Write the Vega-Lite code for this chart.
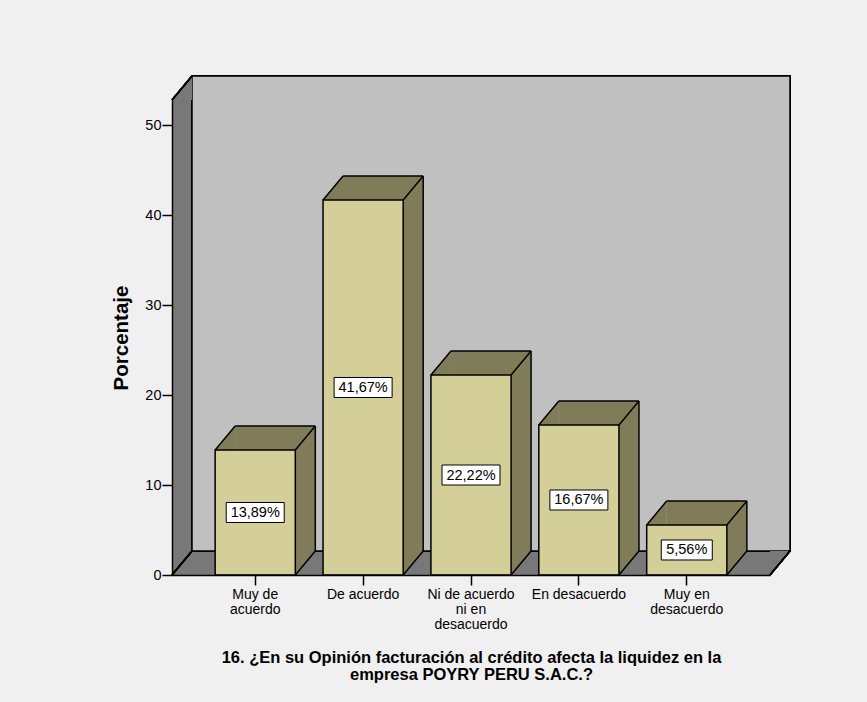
{
  "$schema": "https://vega.github.io/schema/vega-lite/v6.json",
  "width": 598,
  "height": 475,
  "autosize": {"type": "none"},
  "padding": {"left": 172, "top": 100, "right": 97, "bottom": 127},
  "background": "#f0f0f0",
  "config": {"view": {"stroke": null}, "font": "Liberation Sans"},
  "data": {"values": [
    {"cat": "Muy de|acuerdo", "v": 13.89, "lbl": "13,89%"},
    {"cat": "De acuerdo", "v": 41.67, "lbl": "41,67%"},
    {"cat": "Ni de acuerdo|ni en|desacuerdo", "v": 22.22, "lbl": "22,22%"},
    {"cat": "En desacuerdo", "v": 16.67, "lbl": "16,67%"},
    {"cat": "Muy en|desacuerdo", "v": 5.56, "lbl": "5,56%"}
  ]},
  "resolve": {"scale": {"y": "independent"}, "axis": {"x": "independent", "y": "independent"}},
  "layer": [
    {
      "mark": {"type": "rect", "fill": "#787878"},
      "encoding": {
        "x": {"value": 0},
        "x2": {"value": "width"},
        "y": {"datum": 0, "type": "quantitative", "scale": {"domain": [0, 52.78], "nice": false}, "axis": null},
        "y2": {"datum": 52.78}
      }
    },
    {
      "mark": {"type": "rect", "fill": "#c0c0c0", "stroke": "#000", "strokeWidth": 1.5, "xOffset": 20, "x2Offset": 20, "yOffset": -24, "y2Offset": -24},
      "encoding": {
        "x": {"value": 0},
        "x2": {"value": "width"},
        "y": {"datum": 0, "type": "quantitative", "scale": {"domain": [0, 52.78], "nice": false}, "axis": null},
        "y2": {"datum": 52.78}
      }
    },
    {
      "mark": {"type": "point", "shape": "M0,0L0.8333,-1L0.8333,0Z", "size": 2304, "filled": true, "color": "#787878", "opacity": 1, "strokeOpacity": 0},
      "encoding": {
        "x": {"value": 0},
        "y": {"datum": 52.78, "type": "quantitative", "scale": {"domain": [0, 52.78], "nice": false}, "axis": null}
      }
    },
    {
      "mark": {"type": "point", "shape": "M0,0L0,-1L0.8333,-1Z", "size": 2304, "filled": true, "color": "#787878", "opacity": 1, "strokeOpacity": 0},
      "encoding": {
        "x": {"value": "width"},
        "y": {"datum": 0, "type": "quantitative", "scale": {"domain": [0, 52.78], "nice": false}, "axis": null}
      }
    },
    {
      "mark": {"type": "rule", "color": "#000", "strokeWidth": 1.5, "x2Offset": 20, "y2Offset": -24},
      "encoding": {
        "x": {"value": 0},
        "x2": {"value": 0},
        "y": {"datum": 52.78, "type": "quantitative", "scale": {"domain": [0, 52.78], "nice": false}, "axis": null},
        "y2": {"datum": 52.78}
      }
    },
    {
      "mark": {"type": "rule", "color": "#000", "strokeWidth": 1.5, "x2Offset": 20, "y2Offset": -24},
      "encoding": {
        "x": {"value": 0},
        "x2": {"value": 0},
        "y": {"datum": 0, "type": "quantitative", "scale": {"domain": [0, 52.78], "nice": false}, "axis": null},
        "y2": {"datum": 0}
      }
    },
    {
      "mark": {"type": "rule", "color": "#000", "strokeWidth": 1.5, "x2Offset": 20, "y2Offset": -24},
      "encoding": {
        "x": {"value": "width"},
        "x2": {"value": "width"},
        "y": {"datum": 0, "type": "quantitative", "scale": {"domain": [0, 52.78], "nice": false}, "axis": null},
        "y2": {"datum": 0}
      }
    },
    {
      "mark": {"type": "bar", "fill": "#807c5a", "xOffset": 20, "x2Offset": 20, "yOffset": -24, "y2Offset": -24},
      "encoding": {
        "x": {"field": "cat", "type": "nominal", "sort": null, "scale": {"type": "band", "paddingInner": 0.257, "paddingOuter": 0.4}, "axis": null},
        "y": {"field": "v", "type": "quantitative", "scale": {"domain": [0, 52.78], "nice": false}, "axis": null}
      }
    },
    {
      "mark": {"type": "point", "shape": "M0,0L0.8333,-1L0.8333,0Z", "size": 2304, "filled": true, "color": "#807c5a", "opacity": 1, "strokeOpacity": 0},
      "encoding": {
        "x": {"field": "cat", "type": "nominal", "sort": null, "bandPosition": 0, "scale": {"type": "band", "paddingInner": 0.257, "paddingOuter": 0.4}, "axis": null},
        "y": {"field": "v", "type": "quantitative", "scale": {"domain": [0, 52.78], "nice": false}, "axis": null}
      }
    },
    {
      "mark": {"type": "point", "shape": "M0,0L0,-1L0.8333,-1Z", "size": 2304, "filled": true, "color": "#807c5a", "opacity": 1, "strokeOpacity": 0},
      "encoding": {
        "x": {"field": "cat", "type": "nominal", "sort": null, "bandPosition": 1, "scale": {"type": "band", "paddingInner": 0.257, "paddingOuter": 0.4}, "axis": null},
        "y": {"datum": 0, "type": "quantitative", "scale": {"domain": [0, 52.78], "nice": false}, "axis": null}
      }
    },
    {
      "mark": {"type": "rule", "color": "#000", "strokeWidth": 1.5, "xOffset": 20, "x2Offset": 20, "yOffset": -24},
      "encoding": {
        "x": {"field": "cat", "type": "nominal", "sort": null, "bandPosition": 0, "scale": {"type": "band", "paddingInner": 0.257, "paddingOuter": 0.4}, "axis": null},
        "x2": {"field": "cat", "bandPosition": 1},
        "y": {"field": "v", "type": "quantitative", "scale": {"domain": [0, 52.78], "nice": false}, "axis": null}
      }
    },
    {
      "mark": {"type": "rule", "color": "#000", "strokeWidth": 1.5, "xOffset": 20, "yOffset": -24, "y2Offset": -24},
      "encoding": {
        "x": {"field": "cat", "type": "nominal", "sort": null, "bandPosition": 1, "scale": {"type": "band", "paddingInner": 0.257, "paddingOuter": 0.4}, "axis": null},
        "y": {"field": "v", "type": "quantitative", "scale": {"domain": [0, 52.78], "nice": false}, "axis": null},
        "y2": {"datum": 0}
      }
    },
    {
      "mark": {"type": "rule", "color": "#000", "strokeWidth": 1.5, "x2Offset": 20, "y2Offset": -24},
      "encoding": {
        "x": {"field": "cat", "type": "nominal", "sort": null, "bandPosition": 0, "scale": {"type": "band", "paddingInner": 0.257, "paddingOuter": 0.4}, "axis": null},
        "x2": {"field": "cat", "bandPosition": 0},
        "y": {"field": "v", "type": "quantitative", "scale": {"domain": [0, 52.78], "nice": false}, "axis": null},
        "y2": {"field": "v"}
      }
    },
    {
      "mark": {"type": "rule", "color": "#000", "strokeWidth": 1.5, "x2Offset": 20, "y2Offset": -24},
      "encoding": {
        "x": {"field": "cat", "type": "nominal", "sort": null, "bandPosition": 1, "scale": {"type": "band", "paddingInner": 0.257, "paddingOuter": 0.4}, "axis": null},
        "x2": {"field": "cat", "bandPosition": 1},
        "y": {"field": "v", "type": "quantitative", "scale": {"domain": [0, 52.78], "nice": false}, "axis": null},
        "y2": {"field": "v"}
      }
    },
    {
      "mark": {"type": "rule", "color": "#000", "strokeWidth": 1.5, "x2Offset": 20, "y2Offset": -24},
      "encoding": {
        "x": {"field": "cat", "type": "nominal", "sort": null, "bandPosition": 1, "scale": {"type": "band", "paddingInner": 0.257, "paddingOuter": 0.4}, "axis": null},
        "x2": {"field": "cat", "bandPosition": 1},
        "y": {"datum": 0, "type": "quantitative", "scale": {"domain": [0, 52.78], "nice": false}, "axis": null},
        "y2": {"datum": 0}
      }
    },
    {
      "mark": {"type": "bar", "fill": "#d4cf98", "stroke": "#000", "strokeWidth": 1.5},
      "encoding": {
        "x": {
          "field": "cat", "type": "nominal", "sort": null,
          "scale": {"type": "band", "paddingInner": 0.257, "paddingOuter": 0.4},
          "axis": {
            "orient": "bottom",
            "title": ["16. ¿En su Opinión  facturación al crédito afecta la liquidez en la", "empresa POYRY PERU S.A.C.?"],
            "titleFont": "Liberation Sans", "titleFontSize": 16.5, "titleFontWeight": "bold", "titleColor": "#000", "titleLineHeight": 17.5, "titlePadding": 18,
            "labelExpr": "split(datum.label, '|')", "labelFont": "Liberation Sans", "labelFontSize": 14, "labelLineHeight": 15, "labelColor": "#000", "labelAngle": 0, "labelPadding": 2, "labelLimit": 0,
            "tickSize": 10, "tickColor": "#000", "tickWidth": 1.5, "domainColor": "#000", "domainWidth": 1.5, "zindex": 1
          }
        },
        "y": {
          "field": "v", "type": "quantitative",
          "scale": {"domain": [0, 52.78], "nice": false},
          "axis": {
            "orient": "left",
            "values": [0, 10, 20, 30, 40, 50], "grid": false,
            "title": "Porcentaje", "titleFont": "Liberation Sans", "titleFontSize": 20.5, "titleFontWeight": "bold", "titleColor": "#000", "titlePadding": 13,
            "labelFont": "Liberation Sans", "labelFontSize": 14.5, "labelColor": "#000", "labelPadding": 1,
            "tickSize": 10, "tickColor": "#000", "tickWidth": 1.5, "domainColor": "#000", "domainWidth": 1.5, "zindex": 1
          }
        }
      }
    },
    {
      "mark": {"type": "point", "size": 1600, "filled": true, "fill": "#ffffff", "stroke": "#000", "strokeWidth": 1, "opacity": 1, "strokeOpacity": 1},
      "encoding": {
        "x": {"field": "cat", "type": "nominal", "sort": null, "scale": {"type": "band", "paddingInner": 0.257, "paddingOuter": 0.4}, "axis": null},
        "y": {"field": "v", "type": "quantitative", "scale": {"domain": [0, 105.56], "nice": false}, "axis": null},
        "shape": {"condition": {"test": "datum.v < 10", "value": "M-1.275,-0.5H1.275V0.5H-1.275Z"}, "value": "M-1.45,-0.5H1.45V0.5H-1.45Z"}
      }
    },
    {
      "mark": {"type": "text", "font": "Liberation Sans", "fontSize": 14.5, "color": "#000", "align": "center", "baseline": "middle", "dy": 0.5},
      "encoding": {
        "x": {"field": "cat", "type": "nominal", "sort": null, "scale": {"type": "band", "paddingInner": 0.257, "paddingOuter": 0.4}, "axis": null},
        "y": {"field": "v", "type": "quantitative", "scale": {"domain": [0, 105.56], "nice": false}, "axis": null},
        "text": {"field": "lbl"}
      }
    }
  ]
}
